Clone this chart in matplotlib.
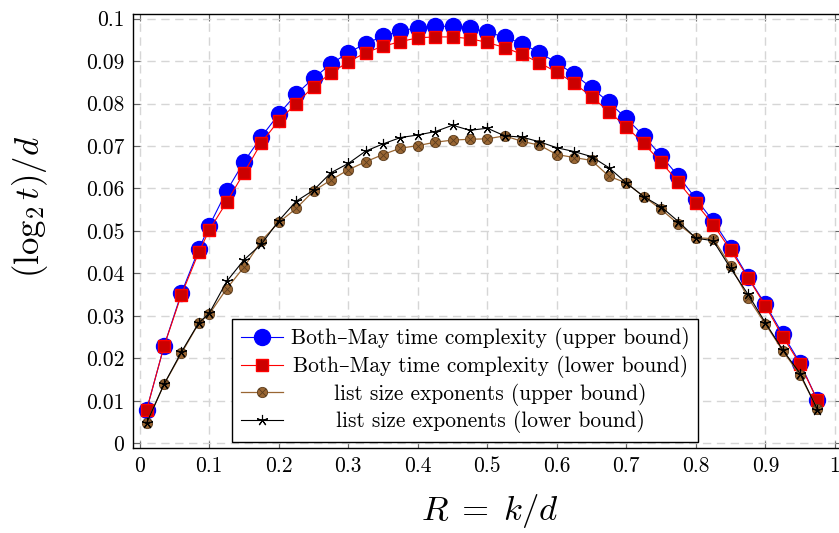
import matplotlib
matplotlib.use("Agg")
import matplotlib.pyplot as plt
import numpy as np
from matplotlib.path import Path
from matplotlib.ticker import FixedLocator, FuncFormatter

plt.rcParams['mathtext.fontset'] = 'cm'
plt.rcParams['font.family'] = ['cmr10', 'DejaVu Serif']
plt.rcParams['axes.formatter.use_mathtext'] = True

# R = k/d
rate = [0.01, 0.035, 0.06, 0.085, 0.1, 0.125, 0.15, 0.175, 0.2, 0.225,
        0.25, 0.275, 0.3, 0.325, 0.35, 0.375, 0.4, 0.425, 0.45, 0.475,
        0.5, 0.525, 0.55, 0.575, 0.6, 0.625, 0.65, 0.675, 0.7, 0.725,
        0.75, 0.775, 0.8, 0.825, 0.85, 0.875, 0.9, 0.925, 0.95, 0.975]

bm_upper = [0.0079, 0.0229, 0.0354, 0.0457, 0.0512, 0.0594, 0.0663, 0.0722, 0.0775, 0.0822,
            0.0860, 0.0893, 0.0920, 0.0941, 0.0959, 0.0971, 0.0979, 0.0982, 0.0982, 0.0979,
            0.0968, 0.0957, 0.0941, 0.0920, 0.0896, 0.0869, 0.0837, 0.0803, 0.0765, 0.0724,
            0.0677, 0.0629, 0.0576, 0.0523, 0.0461, 0.0392, 0.0327, 0.0257, 0.0189, 0.0101]

bm_lower = [0.0079, 0.0229, 0.0350, 0.0450, 0.0502, 0.0568, 0.0637, 0.0708, 0.0760, 0.0800,
            0.0840, 0.0872, 0.0898, 0.0920, 0.0935, 0.0946, 0.0955, 0.0957, 0.0957, 0.0953,
            0.0944, 0.0932, 0.0916, 0.0896, 0.0874, 0.0848, 0.0816, 0.0781, 0.0745, 0.0706,
            0.0662, 0.0615, 0.0565, 0.0515, 0.0455, 0.0390, 0.0324, 0.0251, 0.0186, 0.0101]

list_upper = [0.0048, 0.0139, 0.0212, 0.0283, 0.0304, 0.0364, 0.0415, 0.0477, 0.0520, 0.0553,
              0.0594, 0.0620, 0.0644, 0.0663, 0.0680, 0.0695, 0.0701, 0.0709, 0.0714, 0.0716,
              0.0717, 0.0724, 0.0711, 0.0702, 0.0680, 0.0673, 0.0666, 0.0629, 0.0613, 0.0581,
              0.0551, 0.0516, 0.0484, 0.0482, 0.0418, 0.0343, 0.0281, 0.0218, 0.0160, 0.0081]

list_lower = [0.0048, 0.0139, 0.0215, 0.0284, 0.0306, 0.0381, 0.0432, 0.0469, 0.0524, 0.0570,
              0.0596, 0.0637, 0.0659, 0.0688, 0.0705, 0.0720, 0.0726, 0.0734, 0.0749, 0.0737,
              0.0742, 0.0724, 0.0721, 0.0710, 0.0696, 0.0687, 0.0675, 0.0649, 0.0613, 0.0581,
              0.0557, 0.0522, 0.0483, 0.0477, 0.0412, 0.0351, 0.0284, 0.0220, 0.0164, 0.0079]

labels = ['Both\u2013May time complexity (upper bound)',
          'Both\u2013May time complexity (lower bound)',
          'list size exponents (upper bound)',
          'list size exponents (lower bound)']

# circle with a cross inside (like pgfplots otimes*)
d = 0.7071
otimes = Path.make_compound_path(
    Path.unit_circle(),
    Path([[-d, -d], [d, d]], [Path.MOVETO, Path.LINETO]),
    Path([[-d, d], [d, -d]], [Path.MOVETO, Path.LINETO]))

fig = plt.figure(figsize=(8.39, 5.33), dpi=100)
ax = fig.add_axes([132.8 / 839, 1 - 447.7 / 533, 709 / 839, 433.7 / 533])

ax.plot(rate, bm_upper, color='#0000ff', lw=0.8, marker='o', ms=11.5,
        mfc='#0000ff', mec='#0000ff', label=labels[0])
ax.plot(rate, bm_lower, color='#ff0000', lw=0.8, marker='s', ms=8.6,
        mfc='#cc0000', mec='#ff0000', mew=1.0, label=labels[1])
ax.plot(rate, list_upper, color='#996633', lw=0.9, marker=otimes, ms=7.4,
        mfc='#996633', mec='#5c3d1e', mew=0.6, label=labels[2])
ax.plot(rate, list_lower, color='black', lw=0.8, marker=(5, 2, 0), ms=8,
        mfc='black', mec='black', mew=0.8, label=labels[3])

ax.set_xlim(-0.01, 1.01)
ax.set_ylim(-0.00105, 0.1011)
ax.xaxis.set_major_locator(FixedLocator(np.linspace(0, 1, 11)))
ax.yaxis.set_major_locator(FixedLocator(np.linspace(0, 0.1, 11)))
ax.xaxis.set_major_formatter(FuncFormatter(lambda v, p: '%g' % round(v, 3)))
ax.yaxis.set_major_formatter(FuncFormatter(lambda v, p: '%g' % round(v, 3)))
ax.tick_params(direction='in', length=5, width=0.8, color='#666666',
               labelsize=15.5, top=True, right=True, pad=6)
ax.grid(True, color='#d6d6d6', linestyle=(0, (6, 4)), lw=1.0)
ax.set_axisbelow(True)
for s in ax.spines.values():
    s.set_linewidth(1.0)

ax.set_xlabel(r'$R \;=\; k/d$', fontsize=25)
ax.set_ylabel(r'$(\log_2 t)/d$', fontsize=25)
ax.xaxis.set_label_coords(0.504, -0.103)
ax.yaxis.set_label_coords(-0.117, 0.555)

leg = ax.legend(loc='lower left',
                bbox_to_anchor=(232 / 839, 1 - 442 / 533),
                bbox_transform=fig.transFigure,
                fontsize=15.4, frameon=True, fancybox=False, framealpha=1,
                edgecolor='black', handlelength=2.0, handletextpad=0.35,
                labelspacing=0.22, borderpad=0.4, borderaxespad=0)
leg.get_frame().set_linewidth(1.0)

# centre the shorter labels like the original legend
fig.canvas.draw()
r = fig.canvas.get_renderer()
texts = leg.get_texts()
widths = [t.get_window_extent(r).width for t in texts]
for t, w in zip(texts, widths):
    t.set_x((max(widths) - w) / 2)

fig.savefig('out.png', dpi=100)
